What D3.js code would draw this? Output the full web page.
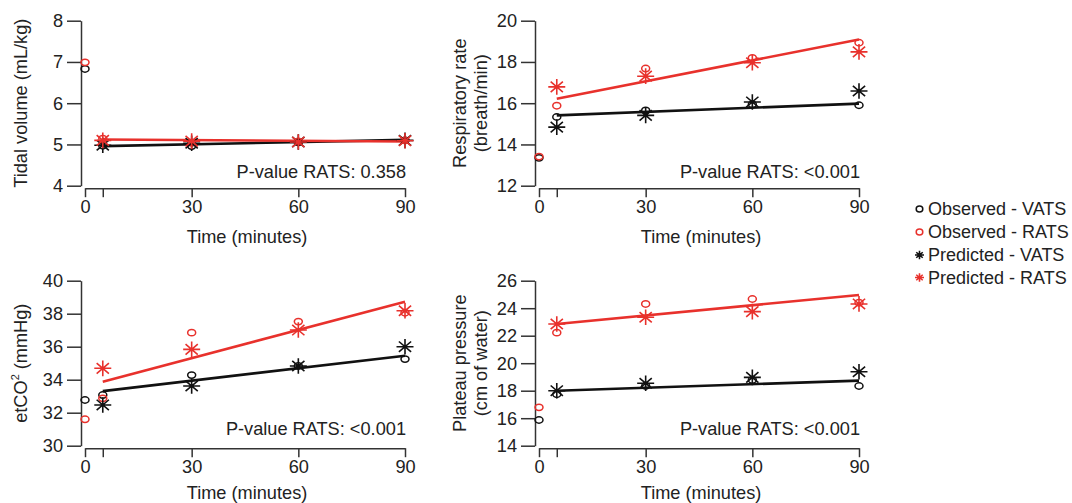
<!DOCTYPE html>
<html>
<head>
<meta charset="utf-8">
<script src="https://cdn.jsdelivr.net/npm/d3@7"></script>
<style>
  body { margin: 0; background: #fff; }
  text { font-family: "Liberation Sans", Arial, sans-serif; fill: #222; }
</style>
</head>
<body>
<div id="chart"></div>
<script>
const width = 1072, height = 503;
const red = "#e8312c", black = "#111";

const obsTimes = [0, 5, 30, 60, 90];
const predTimes = [5, 30, 60, 90];
const fitTimes = [5, 90];
const xTicks = [0, 5, 30, 60, 90];

// tidal volume (mL/kg)
const tidalObsVats = [6.83, 4.97, 4.96, 5.05, 5.1];
const tidalObsRats = [6.99, 5.14, 5.04, 5.07, 5.1];
const tidalPredVats = [4.98, 5.03, 5.06, 5.1];
const tidalPredRats = [5.1, 5.08, 5.06, 5.09];
const tidalFitVats = [4.96, 5.11];
const tidalFitRats = [5.12, 5.07];

// respiratory rate (breath/min)
const respObsVats = [13.35, 15.33, 15.65, 15.94, 15.9];
const respObsRats = [13.41, 15.88, 17.68, 18.2, 18.93];
const respPredVats = [14.84, 15.41, 16.06, 16.59];
const respPredRats = [16.79, 17.31, 17.96, 18.49];
const respFitVats = [15.41, 15.98];
const respFitRats = [16.22, 19.09];

// etCO2 (mmHg)
const co2ObsVats = [32.77, 33.07, 34.28, 34.83, 35.25];
const co2ObsRats = [31.6, 32.87, 36.85, 37.52, 38.06];
const co2PredVats = [32.47, 33.62, 34.83, 36.0];
const co2PredRats = [34.69, 35.84, 37.01, 38.18];
const co2FitVats = [33.31, 35.45];
const co2FitRats = [33.88, 38.73];

// plateau pressure (cm of water)
const platObsVats = [15.87, 17.74, 18.34, 18.78, 18.34];
const platObsRats = [16.79, 22.22, 24.31, 24.67, 24.4];
const platPredVats = [18.0, 18.54, 18.97, 19.38];
const platPredRats = [22.85, 23.34, 23.75, 24.31];
const platFitVats = [18.0, 18.73];
const platFitRats = [22.85, 24.96];

const legendLabels = ["Observed - VATS", "Observed - RATS", "Predicted - VATS", "Predicted - RATS"];

const panels = [
  { col: 0, row: 0, title: ["Tidal volume (mL/kg)"], yDomain: [4, 8], yTicks: [4, 5, 6, 7, 8],
    pText: "P-value RATS: 0.358", obsV: tidalObsVats, obsR: tidalObsRats, predV: tidalPredVats,
    predR: tidalPredRats, fitV: tidalFitVats, fitR: tidalFitRats },
  { col: 1, row: 0, title: ["Respiratory rate", "(breath/min)"], yDomain: [12, 20], yTicks: [12, 14, 16, 18, 20],
    pText: "P-value RATS: <0.001", obsV: respObsVats, obsR: respObsRats, predV: respPredVats,
    predR: respPredRats, fitV: respFitVats, fitR: respFitRats },
  { col: 0, row: 1, title: null, yDomain: [30, 40], yTicks: [30, 32, 34, 36, 38, 40],
    pText: "P-value RATS: <0.001", obsV: co2ObsVats, obsR: co2ObsRats, predV: co2PredVats,
    predR: co2PredRats, fitV: co2FitVats, fitR: co2FitRats },
  { col: 1, row: 1, title: ["Plateau pressure", "(cm of water)"], yDomain: [14, 26], yTicks: [14, 16, 18, 20, 22, 24, 26],
    pText: "P-value RATS: <0.001", obsV: platObsVats, obsR: platObsRats, predV: platPredVats,
    predR: platPredRats, fitV: platFitVats, fitR: platFitRats }
];

const svg = d3.select("#chart").append("svg")
  .attr("width", width)
  .attr("height", height);

const colX = [81, 535];
const rowY = [20.7, 280.7];
const plotH = 165;
const fs = 18.2;

function asteriskPath(cx, cy, r) {
  const d = r * 0.72;
  return `M${cx - r},${cy}H${cx + r}M${cx},${cy - r * 0.92}V${cy + r * 0.92}` +
    `M${cx - d},${cy - d * 0.85}L${cx + d},${cy + d * 0.85}M${cx - d},${cy + d * 0.85}L${cx + d},${cy - d * 0.85}`;
}

panels.forEach(p => {
  const ax = colX[p.col], top = rowY[p.row], bottom = top + plotH;
  const x = d3.scaleLinear().domain([0, 90]).range([ax + 4, ax + 324]);
  const y = d3.scaleLinear().domain(p.yDomain).range([bottom, top]);
  const g = svg.append("g");

  // y axis
  const yAx = g.append("g")
    .attr("transform", `translate(${ax},0)`)
    .call(d3.axisLeft(y).tickValues(p.yTicks).tickFormat(d3.format("d"))
      .tickSize(14).tickSizeOuter(0).tickPadding(4));
  // x axis
  const xAx = g.append("g")
    .attr("transform", `translate(0,${bottom + 2.5})`)
    .call(d3.axisBottom(x).tickValues(xTicks).tickFormat(d => d === 5 ? "" : d)
      .tickSize(9).tickSizeOuter(0).tickPadding(3));
  [yAx, xAx].forEach(a => {
    a.selectAll("path, line").attr("stroke", "#333").attr("stroke-width", 1.5);
    a.selectAll("text").attr("font-size", fs).attr("fill", "#222");
  });

  // x title
  g.append("text")
    .attr("x", (x.range()[0] + x.range()[1]) / 2 + 2)
    .attr("y", p.row === 0 ? bottom + 57 : bottom + 53)
    .attr("text-anchor", "middle")
    .attr("font-size", fs)
    .text("Time (minutes)");

  // y title
  const cy = (top + bottom) / 2;
  if (p.title) {
    const base = p.title.length === 1 ? [ax - 54.5] : [ax - 69, ax - 48];
    p.title.forEach((t, i) => {
      g.append("text")
        .attr("transform", `translate(${base[i]},${cy}) rotate(-90)`)
        .attr("text-anchor", "middle")
        .attr("font-size", fs)
        .text(t);
    });
  } else {
    const t = g.append("text")
      .attr("transform", `translate(${ax - 54},${cy}) rotate(-90)`)
      .attr("text-anchor", "middle")
      .attr("font-size", fs);
    t.append("tspan").text("etCO");
    t.append("tspan").attr("font-size", fs * 0.6).attr("dy", -fs * 0.45).text("2");
    t.append("tspan").attr("dy", fs * 0.45).text(" (mmHg)");
  }

  // p-value
  g.append("text")
    .attr("x", x(90) + 1)
    .attr("y", p.row === 0 ? bottom - 8 : bottom - 11)
    .attr("text-anchor", "end")
    .attr("font-size", fs)
    .text(p.pText);

  // regression lines
  const line = d3.line().x(d => x(d[0])).y(d => y(d[1]));
  [[p.fitV, black], [p.fitR, red]].forEach(([vals, c]) => {
    g.append("path")
      .datum(fitTimes.map((t, i) => [t, vals[i]]))
      .attr("d", line)
      .attr("fill", "none")
      .attr("stroke", c)
      .attr("stroke-width", 2.6);
  });

  // observed circles
  [[p.obsV, black], [p.obsR, red]].forEach(([vals, c]) => {
    g.selectAll(null)
      .data(obsTimes.map((t, i) => [t, vals[i]]))
      .join("ellipse")
      .attr("cx", d => x(d[0]))
      .attr("cy", d => y(d[1]))
      .attr("rx", 4)
      .attr("ry", 3.2)
      .attr("fill", "none")
      .attr("stroke", c)
      .attr("stroke-width", 1.5);
  });

  // predicted asterisks
  [[p.predV, black], [p.predR, red]].forEach(([vals, c]) => {
    g.selectAll(null)
      .data(predTimes.map((t, i) => [t, vals[i]]))
      .join("path")
      .attr("d", d => asteriskPath(x(d[0]), y(d[1]), 8.5))
      .attr("fill", "none")
      .attr("stroke", c)
      .attr("stroke-width", 1.6);
  });
});

// legend
const legend = svg.append("g");
const legendY = [209, 232, 255, 277.5];
legendLabels.forEach((label, i) => {
  const c = i % 2 === 0 ? black : red;
  if (i < 2) {
    legend.append("ellipse")
      .attr("cx", 919.5).attr("cy", legendY[i])
      .attr("rx", 3.3).attr("ry", 3)
      .attr("fill", "none").attr("stroke", c).attr("stroke-width", 1.5);
  } else {
    legend.append("path")
      .attr("d", asteriskPath(919.5, legendY[i], 4.5))
      .attr("fill", "none").attr("stroke", c).attr("stroke-width", 1.6);
  }
  legend.append("text")
    .attr("x", 928)
    .attr("y", legendY[i] + 6)
    .attr("font-size", 18)
    .text(label);
});
</script>
</body>
</html>
